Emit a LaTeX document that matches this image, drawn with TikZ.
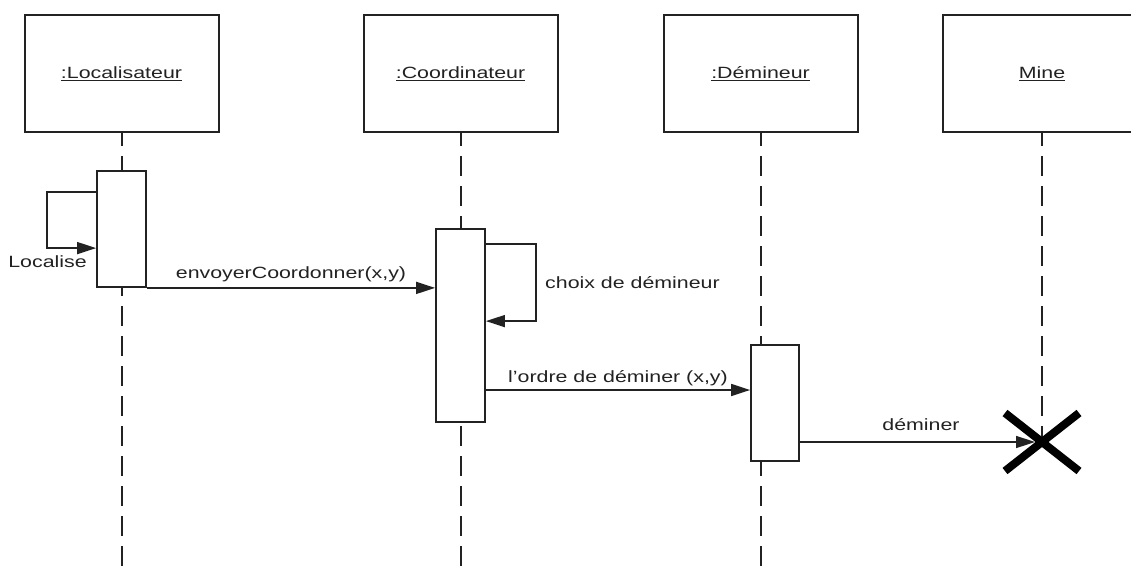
\documentclass[tikz,border=0pt]{standalone}
\usepackage{fontspec}
\setmainfont{Liberation Sans}
\usetikzlibrary{arrows.meta,backgrounds}
\definecolor{ink}{HTML}{222222}
% labels are set slightly wide
\newcommand\wtxt[1]{\scalebox{1.31}[1]{#1}}
\begin{document}
\begin{tikzpicture}[x=1pt,y=-1pt,
  every node/.style={font=\fontsize{16.3}{19}\selectfont, text=ink},
  headbox/.style={draw=ink, line width=2pt, fill=white, minimum width=194pt,
    minimum height=117pt, inner sep=0pt},
  actbox/.style={draw=ink, line width=1.8pt, fill=white, minimum width=49pt, inner sep=0pt},
  lifeline/.style={draw=ink, line width=2pt, dash pattern=on 20pt off 10pt, dash phase=7pt},
  msg/.style={draw=ink, line width=1.5pt, -{Triangle[length=19pt,width=12pt]}},
  lbl/.style={anchor=base, inner sep=0pt}
]
\useasboundingbox (0,0) rectangle (1131,572);
\clip (0,0) rectangle (1131,572);

% participants
\node[headbox] (loc)  at (121.5,73.5) {\wtxt{\underline{:Localisateur}}};
\node[headbox] (coo)  at (460.5,73.5) {\wtxt{\underline{:Coordinateur}}};
\node[headbox] (dem)  at (760.5,73.5) {\wtxt{\underline{:Démineur}}};
\node[headbox, minimum width=198pt] (mine) at (1042,73.5) {\wtxt{\underline{Mine}}};

% activation bars
\node[actbox, minimum height=116pt] (a1) at (121.5,229) {};
\node[actbox, minimum height=193pt] (a2) at (460.5,325.5) {};
\node[actbox, minimum width=48pt, minimum height=116pt] (a3) at (775,403) {};

\coordinate (bottom) at (0,572);
\coordinate (del) at (1042,442);

% page and lifelines, behind everything else
\begin{scope}[on background layer]
  \fill[white] (0,0) rectangle (1131,572);
  \draw[lifeline] (loc.south) -- (loc.south |- bottom);
  \draw[lifeline] (coo.south) -- (coo.south |- bottom);
  \draw[lifeline] (dem.south) -- (dem.south |- bottom);
  \draw[lifeline] (mine.south -| del) -- (del);
\end{scope}

% self message: Localise
\draw[msg] ([yshift=-22pt]a1.north west) -- ++(-49,0) |- ([yshift=-78pt]a1.north west);
\node[lbl] (lloc) at (47.5,267) {\wtxt{Localise}};

% envoyerCoordonner
\draw[msg] (a1.south east) -- (a1.south east -| a2.west)
  node[lbl, pos=0.5, yshift=9pt] (lenv) {\wtxt{envoyerCoordonner(x,y)}};

% self message: choix de demineur
\draw[msg] ([yshift=-16pt]a2.north east) -- ++(50,0) |- ([yshift=-93pt]a2.north east);
\node[lbl, anchor=base west] (lcho) at (545,288) {\wtxt{choix de démineur}};

% l'ordre de deminer
\draw[msg] (a2.east |- 0,390) -- (a3.west |- 0,390)
  node[lbl, pos=0.5, yshift=8pt] (lord) {\wtxt{l'ordre de déminer (x,y)}};

% deminer and destruction
\draw[msg, shorten >=7pt] (a3.east |- del) -- (del)
  node[lbl, pos=0.5, yshift=12pt] (ldem) {\wtxt{déminer}};
\draw[black, line width=8pt] ([shift={(-37,-29)}]del) -- ([shift={(37,29)}]del);
\draw[black, line width=8pt] ([shift={(-37,29)}]del) -- ([shift={(37,-29)}]del);
\end{tikzpicture}
\end{document}
